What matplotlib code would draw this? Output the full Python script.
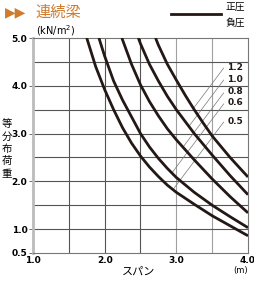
import matplotlib
matplotlib.use("Agg")
import matplotlib.pyplot as plt
import numpy as np

plt.rcParams['font.family'] = ['Noto Sans CJK JP', 'DejaVu Sans']

# curves (span m -> load kN/m2)
labels = ['0.5', '0.6', '0.8', '1.0', '1.2']
spans = [
    [1.75, 1.875, 2.0, 2.125, 2.25, 2.375, 2.5, 2.625, 2.75, 2.875, 3.0, 3.25, 3.5, 3.75, 4.0],
    [1.92, 2.0, 2.125, 2.25, 2.375, 2.5, 2.625, 2.75, 2.875, 3.0, 3.25, 3.5, 3.75, 4.0],
    [2.24, 2.375, 2.5, 2.625, 2.75, 2.875, 3.0, 3.25, 3.5, 3.75, 4.0],
    [2.47, 2.5, 2.625, 2.75, 2.875, 3.0, 3.25, 3.5, 3.75, 4.0],
    [2.71, 2.75, 2.875, 3.0, 3.125, 3.25, 3.375, 3.5, 3.75, 4.0],
]
loads = [
    [5.0, 4.4, 3.92, 3.5, 3.12, 2.8, 2.53, 2.3, 2.1, 1.92, 1.77, 1.52, 1.28, 1.07, 0.86],
    [5.0, 4.62, 4.1, 3.7, 3.35, 3.0, 2.72, 2.48, 2.27, 2.08, 1.77, 1.5, 1.26, 1.03],
    [5.0, 4.45, 4.02, 3.67, 3.37, 3.1, 2.87, 2.45, 2.05, 1.68, 1.34],
    [5.0, 4.88, 4.45, 4.1, 3.78, 3.5, 3.0, 2.55, 2.12, 1.72],
    [5.0, 4.85, 4.45, 4.12, 3.8, 3.5, 3.22, 2.95, 2.5, 2.09],
]
label_y = [3.26, 3.64, 3.87, 4.14, 4.39]
xticks = [1.0, 2.0, 3.0, 4.0]
yticks = [0.5, 1.0, 2.0, 3.0, 4.0, 5.0]

fig = plt.figure(figsize=(2.55, 2.88), dpi=100)
ax = fig.add_axes([33/255, 35/288, 215/255, 215/288])
ax.set_xlim(1.0, 4.0)
ax.set_ylim(0.5, 5.0)

# grid every 0.5
for gx in [1.5, 2.0, 2.5, 3.0, 3.5]:
    c = '#a0a0a0' if gx >= 3.0 else '#555555'
    ax.axvline(gx, color=c, lw=0.8, zorder=1)
for gy in [1.0, 1.5, 2.0, 2.5, 3.0, 3.5, 4.0, 4.5]:
    ax.axhline(gy, color='#555555', lw=0.8, zorder=1)

for xs, ys in zip(spans, loads):
    ax.plot(xs, ys, color='#231815', lw=2.0, solid_capstyle='butt',
            solid_joinstyle='round', zorder=3)

# leader lines from each label down to its curve
slope = 2.0
for lab, ly, xs, ys in zip(labels, label_y, spans, loads):
    ax.text(3.71, ly, lab, fontsize=6.5, va='center', ha='left', color='#231815',
            family=['DejaVu Sans'], fontweight='bold')
    x0, y0 = 3.66, ly - 0.02
    xx = np.linspace(x0, 2.0, 400)
    gap = (y0 - slope * (x0 - xx)) - np.interp(xx, xs, ys)
    k = np.argmax(gap < 0)
    ax.plot([x0, xx[k]], [y0, y0 - slope * (x0 - xx[k])], color='#777777', lw=0.5, zorder=2)

ax.spines['left'].set_color('#bbbbbb')
ax.spines['left'].set_linewidth(2.0)
for s in ['top', 'right', 'bottom']:
    ax.spines[s].set_color('#777777')
    ax.spines[s].set_linewidth(0.8)

ax.set_xticks(xticks)
ax.set_xticklabels(['1.0', '2.0', '3.0', '4.0'])
ax.set_yticks(yticks)
ax.set_yticklabels(['0.5', '1.0', '2.0', '3.0', '4.0', '5.0'])
ax.tick_params(axis='both', labelsize=6.5, length=3, width=0.6, color='#555555', pad=1)
for t in ax.get_xticklabels() + ax.get_yticklabels():
    t.set_fontweight('bold')
    t.set_family(['DejaVu Sans'])
ax.tick_params(axis='x', length=0, pad=2)

fig.text(0.02, 0.958, '▶▶', color='#cf7a2c', fontsize=10, va='center', family=['DejaVu Sans'])
fig.text(0.14, 0.958, '連続梁', color='#cf7a2c', fontsize=11, va='center')
fig.text(0.14, 0.893, '(kN/m$^2$)', fontsize=7, va='center', family=['DejaVu Sans'])
fig.text(0.027, 0.483, '等\n分\n布\n荷\n重', fontsize=7.5, va='center', ha='center', linespacing=1.3)
fig.text(0.545, 0.057, 'スパン', fontsize=8, va='center', ha='center')
fig.text(0.945, 0.06, '(m)', fontsize=6, va='center', ha='center', family=['DejaVu Sans'])

fig.lines.append(plt.Line2D([0.67, 0.865], [0.951, 0.951], color='#231815', lw=2,
                            transform=fig.transFigure))
fig.text(0.885, 0.976, '正圧', fontsize=7, va='center')
fig.text(0.885, 0.922, '負圧', fontsize=7, va='center')

fig.savefig('out.png', dpi=100)
